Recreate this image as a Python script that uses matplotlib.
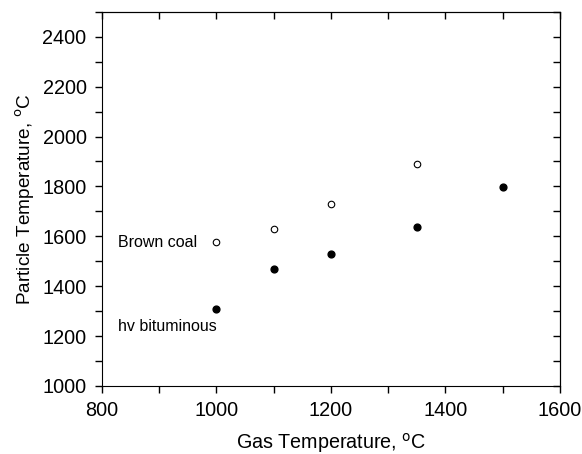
import matplotlib
matplotlib.use("Agg")
import matplotlib.pyplot as plt
from matplotlib.ticker import MultipleLocator

plt.rcParams['font.family'] = ['Liberation Sans', 'DejaVu Sans']

# Brown coal (open circles)
brown_gas = [1000, 1100, 1200, 1350]
brown_particle = [1578, 1628, 1728, 1888]

# hv bituminous (filled circles)
bitum_gas = [1000, 1100, 1200, 1350, 1500]
bitum_particle = [1308, 1468, 1528, 1638, 1798]

fig = plt.figure(figsize=(5.82, 4.54), dpi=100)
ax = fig.add_axes([0.175, 0.150, 0.787, 0.824])

ax.scatter(brown_gas, brown_particle, s=22, facecolors='white', edgecolors='black', linewidths=0.8, zorder=3)
ax.scatter(bitum_gas, bitum_particle, s=24, color='black', zorder=3)

ax.text(828, 1574, 'Brown coal', fontsize=11.5, va='center', ha='left')
ax.text(828, 1237, 'hv bituminous', fontsize=11.5, va='center', ha='left')

ax.set_xlim(800, 1600)
ax.set_ylim(1000, 2500)
ax.xaxis.set_major_locator(MultipleLocator(200))
ax.xaxis.set_minor_locator(MultipleLocator(100))
ax.yaxis.set_major_locator(MultipleLocator(200))
ax.yaxis.set_minor_locator(MultipleLocator(100))
ax.tick_params(which='both', direction='out', length=5, width=1, labelsize=14.3, pad=6)

# top / right ticks point inward
top = ax.secondary_xaxis('top')
top.xaxis.set_major_locator(MultipleLocator(100))
top.tick_params(direction='in', length=5, width=1, labeltop=False)
right = ax.secondary_yaxis('right')
right.yaxis.set_major_locator(MultipleLocator(100))
right.tick_params(direction='in', length=5, width=1, labelright=False)

ax.set_xlabel('Gas Temperature, $^{\\rm o}$C', fontsize=14.2, labelpad=8)
ax.set_ylabel('Particle Temperature, $^{\\rm o}$C', fontsize=13.7, labelpad=4)

fig.savefig('out.png', dpi=100)
